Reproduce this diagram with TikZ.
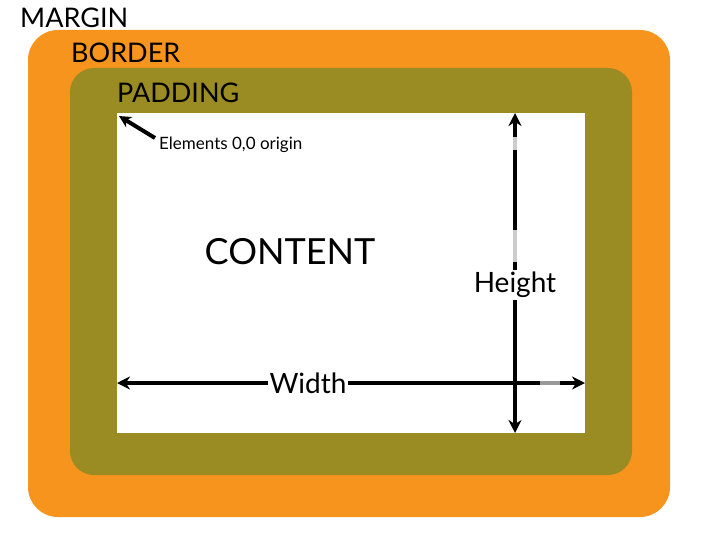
\documentclass[tikz,border=0pt]{standalone}
\usepackage{fontspec}
\setmainfont{Lato}
\usetikzlibrary{arrows.meta}
\definecolor{org}{HTML}{F7941E}
\definecolor{olv}{HTML}{9A8C22}
\begin{document}
\begin{tikzpicture}[x=1pt,y=-1pt,
  lbl/.style={font=\fontsize{27}{29}\selectfont,anchor=west,inner sep=0},
  big/.style={fill=white,inner sep=2pt,font=\fontsize{28}{30}\selectfont},
  dim/.style={line width=4pt,{Stealth[length=13pt,width=13pt]}-{Stealth[length=13pt,width=13pt]}}]
\useasboundingbox (0,0) rectangle (703,532);
\fill[white] (0,0) rectangle (703,532);
\fill[org,rounded corners=30pt] (28,30) rectangle (670,517);
\fill[olv,rounded corners=24pt] (70,68) rectangle (632,475);
\fill[white] (117,113) rectangle (585,433);
\node[lbl] (margin) at (20,18) {MARGIN};
\node[lbl] (border) at (71,53) {BORDER};
\node[lbl] (padding) at (117,93) {PADDING};
\node[font=\fontsize{36}{38}\selectfont] (content) at (290,252) {CONTENT};
\coordinate (ht) at (515,113); \coordinate (hb) at (515,433);
\coordinate (wl) at (117,383); \coordinate (wr) at (585,383);
\draw[dim] (ht) -- (hb);
\draw[dim] (wl) -- (wr);
\draw[line width=4pt,black!20] (515,230) -- (515,262);
\draw[line width=4pt,black!20] (515,137) -- (515,150);
\draw[line width=4pt,black!40] (540,383) -- (560,383);
\node[big] (height) at (515,285) {Height};
\node[big] (width) at (308,383) {Width};
\coordinate (origin) at (119,116);
\node[anchor=west,font=\fontsize{17}{19}\selectfont,inner sep=0] (elem) at (159,145) {Elements 0,0 origin};
\draw[line width=4pt,-{Stealth[length=12pt,width=12pt]}] (155,138) -- (origin);
\end{tikzpicture}
\end{document}
